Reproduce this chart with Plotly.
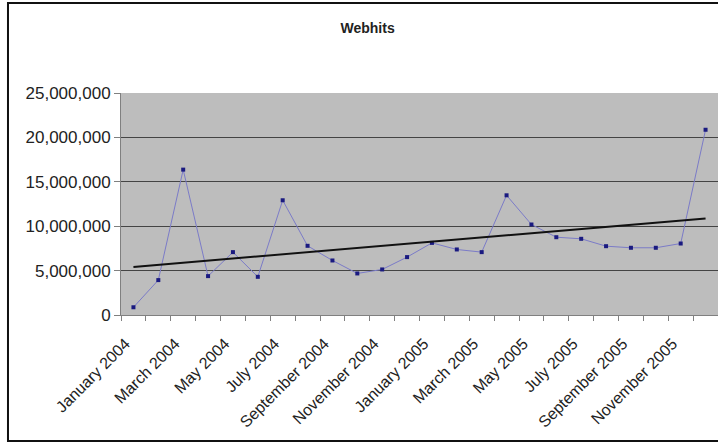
import plotly.graph_objects as go
import numpy as np

months = ["January 2004", "February 2004", "March 2004", "April 2004", "May 2004", "June 2004",
          "July 2004", "August 2004", "September 2004", "October 2004", "November 2004", "December 2004",
          "January 2005", "February 2005", "March 2005", "April 2005", "May 2005", "June 2005",
          "July 2005", "August 2005", "September 2005", "October 2005", "November 2005", "December 2005"]
webhits = [870000, 3930000, 16370000, 4380000, 7080000, 4300000,
           12920000, 7790000, 6140000, 4680000, 5130000, 6520000,
           8120000, 7380000, 7080000, 13480000, 10190000, 8760000,
           8580000, 7750000, 7570000, 7570000, 8050000, 20860000]
y_ticks = [0, 5000000, 10000000, 15000000, 20000000, 25000000]

idx = np.arange(len(months))
slope, intercept = np.polyfit(idx, webhits, 1)
trend = slope * idx + intercept

label_idx = list(idx[::2])
label_txt = [months[i] for i in label_idx]

fig = go.Figure()
fig.add_trace(go.Scatter(x=idx, y=webhits, mode="lines+markers",
                         line=dict(color="#7b7bc8", width=1),
                         marker=dict(color="#1a1a80", size=4, symbol="square"),
                         showlegend=False, hoverinfo="skip"))
fig.add_trace(go.Scatter(x=idx, y=trend, mode="lines",
                         line=dict(color="#111111", width=2),
                         showlegend=False, hoverinfo="skip"))

# outer frame (left, top, bottom edges; right edge lies beyond the picture)
fx0, fx1, fy0, fy1 = -0.1893, 1.1, -0.5676, 1.405
frame_path = f"M {fx1},{fy1} L {fx0},{fy1} L {fx0},{fy0} L {fx1},{fy0}"

fig.update_layout(
    width=718, height=443,
    margin=dict(l=121, r=0, t=93, b=128),
    paper_bgcolor="white",
    plot_bgcolor="#bdbdbd",
    font=dict(family="Liberation Sans, Arial, sans-serif", color="#222222"),
    title=dict(text="<b>Webhits</b>", x=0.512, xref="container", xanchor="center",
               y=0.937, yref="container", yanchor="middle",
               font=dict(size=14, color="#222222")),
    xaxis=dict(range=[-0.5, len(months) - 0.5], tickmode="array",
               tickvals=label_idx, ticktext=label_txt, tickangle=-45,
               ticks="", showgrid=False, zeroline=False,
               tickfont=dict(size=16), automargin=False,
               ticklabelstandoff=12, ticklabelshift=-8,
               showline=True, linecolor="#808080", linewidth=1,
               minor=dict(tick0=-0.5, dtick=1, ticks="outside", ticklen=5,
                          tickcolor="#808080", showgrid=False)),
    yaxis=dict(range=[0, 25000000], tickvals=y_ticks, tickformat=",d",
               ticks="outside", ticklen=6, tickcolor="#808080",
               showgrid=True, gridcolor="#444444", gridwidth=1,
               zeroline=False, showline=True, linecolor="#808080", linewidth=1,
               tickfont=dict(size=17), automargin=False),
    shapes=[dict(type="path", xref="paper", yref="paper", path=frame_path,
                 line=dict(color="#111111", width=2), layer="above")],
)

fig.write_html("out.html")
